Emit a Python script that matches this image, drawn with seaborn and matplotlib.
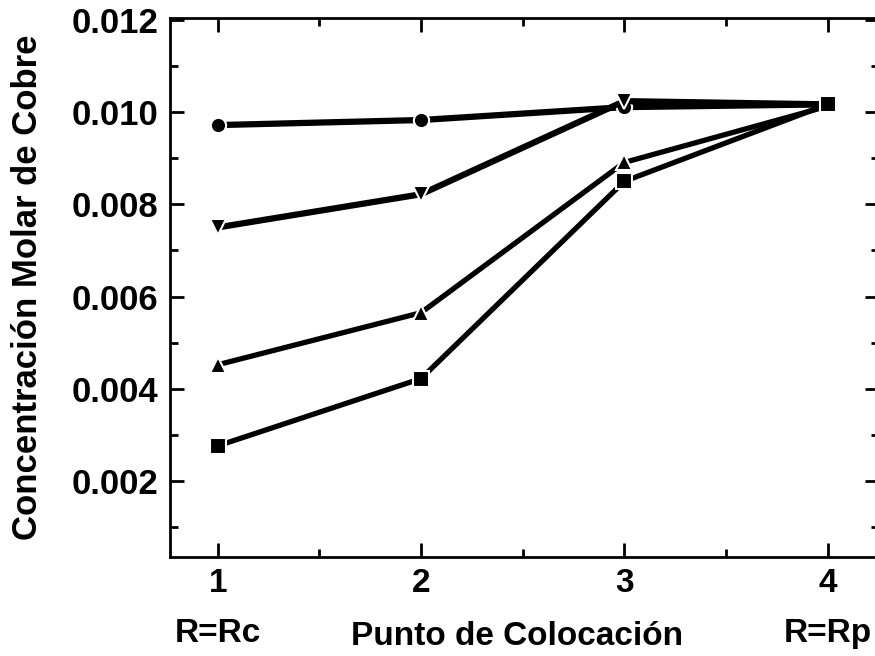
import matplotlib.pyplot as plt
import pandas as pd
import seaborn as sns
from matplotlib.ticker import MultipleLocator

puntos = [1, 2, 3, 4]
serie_circulo = [0.00972, 0.00983, 0.01011, 0.01017]
serie_triangulo_abajo = [0.00750, 0.00822, 0.01024, 0.01017]
serie_triangulo = [0.00452, 0.00565, 0.00891, 0.01013]
serie_cuadrado = [0.00276, 0.00422, 0.00850, 0.01017]
etiquetas_x = ["1\nR=Rc", "2", "3", "4\nR=Rp"]
etiquetas_y = ["0.002", "0.004", "0.006", "0.008", "0.010", "0.012"]
valores_y = [0.002, 0.004, 0.006, 0.008, 0.010, 0.012]

series = {
    "circulo": serie_circulo,
    "triangulo_abajo": serie_triangulo_abajo,
    "triangulo": serie_triangulo,
    "cuadrado": serie_cuadrado,
}
df = pd.concat(
    [pd.DataFrame({"Punto": puntos, "C": vals, "Serie": name}) for name, vals in series.items()],
    ignore_index=True,
)

sns.set_theme(style="ticks")
plt.rcParams["font.family"] = ["Liberation Sans", "DejaVu Sans"]
plt.rcParams["font.weight"] = "bold"
plt.rcParams["text.color"] = "black"
plt.rcParams["axes.labelcolor"] = "black"
plt.rcParams["xtick.color"] = "black"
plt.rcParams["ytick.color"] = "black"

fig = plt.figure(figsize=(8.75, 6.56), dpi=100)
ax = fig.add_axes([0.194, 0.151, 0.81, 0.822])

marcadores = {"circulo": "o", "triangulo_abajo": "v", "triangulo": "^", "cuadrado": "s"}
grosores = {"circulo": 4.5, "triangulo_abajo": 4.5, "triangulo": 3.8, "cuadrado": 3.8}
for name in series:
    sub = df[df["Serie"] == name]
    sns.lineplot(
        data=sub,
        x="Punto",
        y="C",
        ax=ax,
        color="black",
        linewidth=grosores[name],
        marker=marcadores[name],
        markersize=11,
        markeredgecolor="white",
        markeredgewidth=1.5,
        legend=False,
    )

# right spine sits just outside the picture, like the cropped scan
ax.set_xlim(0.764, 4.25)
ax.set_ylim(0.00035, 0.01205)
ax.set_xticks(puntos)
ax.set_xticklabels(etiquetas_x, fontsize=24, fontweight="bold", linespacing=1.8)
ax.xaxis.set_minor_locator(MultipleLocator(0.5))
ax.set_yticks(valores_y)
ax.set_yticklabels(etiquetas_y, fontsize=25, fontweight="bold")
ax.yaxis.set_minor_locator(MultipleLocator(0.001))

ax.tick_params(which="both", direction="in", top=True, right=True, width=2, color="black")
ax.tick_params(which="major", length=10, pad=8)
ax.tick_params(which="minor", length=6)
for s in ax.spines.values():
    s.set_linewidth(2)
    s.set_color("black")

ax.set_ylabel("Concentración Molar de Cobre", fontsize=25, fontweight="bold", labelpad=20)
ax.set_xlabel("Punto de Colocación", fontsize=24, fontweight="bold")
ax.xaxis.set_label_coords(0.49, -0.118)

fig.savefig("out.png", dpi=100)
